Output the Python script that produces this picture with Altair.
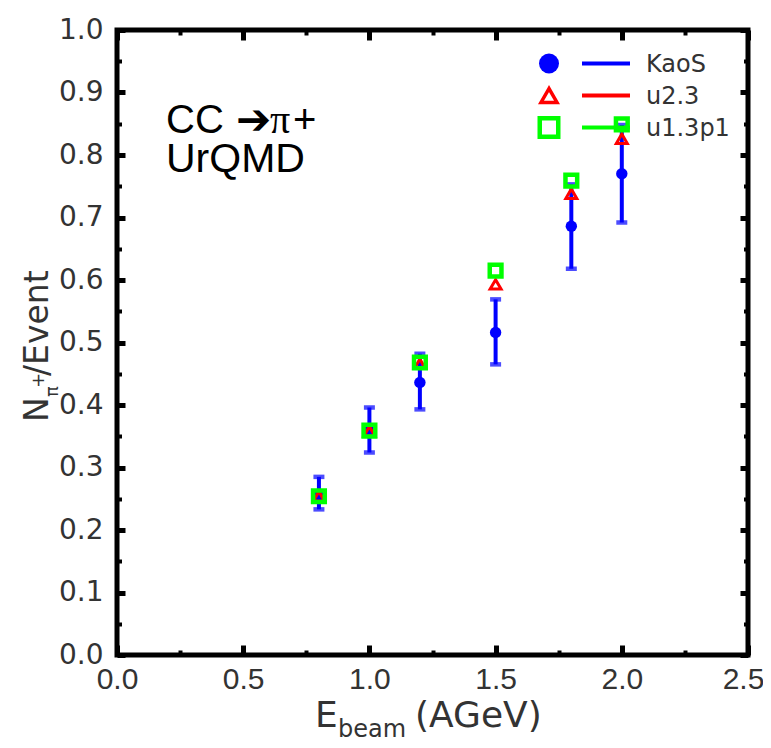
import altair as alt
import pandas as pd

# ---- data ----
energy = [0.8, 1.0, 1.2, 1.5, 1.8, 2.0]
kaos = [0.256, 0.360, 0.436, 0.516, 0.686, 0.770]
kaos_lo = [0.233, 0.324, 0.393, 0.465, 0.618, 0.692]
kaos_hi = [0.285, 0.396, 0.482, 0.569, 0.753, 0.848]
u23 = [0.254, 0.358, 0.466, 0.593, 0.738, 0.826]
u13p1 = [0.254, 0.359, 0.468, 0.615, 0.759, 0.849]

x_major = [0.0, 0.5, 1.0, 1.5, 2.0, 2.5]
x_all = [0.0, 0.25, 0.5, 0.75, 1.0, 1.25, 1.5, 1.75, 2.0, 2.25, 2.5]
y_major = [0.0, 0.1, 0.2, 0.3, 0.4, 0.5, 0.6, 0.7, 0.8, 0.9, 1.0]
y_all = [0.0, 0.05, 0.1, 0.15, 0.2, 0.25, 0.3, 0.35, 0.4, 0.45, 0.5,
         0.55, 0.6, 0.65, 0.7, 0.75, 0.8, 0.85, 0.9, 0.95, 1.0]

legend_labels = ["KaoS", "u2.3", "u1.3p1"]
legend_colors = ["#0000ff", "#ff0000", "#00ff00"]

W, H = 631, 625
BLUE, RED, GREEN = legend_colors

df = pd.DataFrame({"E": energy, "kaos": kaos, "lo": kaos_lo, "hi": kaos_hi,
                   "u23": u23, "u13": u13p1})

xs = alt.Scale(domain=[0, 2.5], nice=False, zero=False)
ys = alt.Scale(domain=[0, 1], nice=False, zero=False)

LBL = "DejaVu Sans"
LBLC = "Liberation Sans"
TXT = "#333333"

x_major_test = "abs(datum.value*2 - round(datum.value*2)) < 0.001"
y_major_test = "abs(datum.value*10 - round(datum.value*10)) < 0.001"
xsize = {"condition": {"test": x_major_test, "value": 10}, "value": 5}
xwid = {"condition": {"test": x_major_test, "value": 5}, "value": 4}
ysize = {"condition": {"test": y_major_test, "value": 8}, "value": 4.5}
ywid = {"condition": {"test": y_major_test, "value": 5}, "value": 4}
last_shift = {"condition": {"test": "datum.value > 2.4", "value": -5}, "value": 0}


def tick_axis(orient, values, size, wid, offset):
    return alt.Axis(orient=orient, offset=offset, values=values, labels=False,
                    domain=False, grid=False, tickColor="black",
                    tickSize=size, tickWidth=wid, title=None)


ax_x_lab = alt.Axis(orient="bottom", values=x_major, format=".1f", ticks=False,
                    domain=False, grid=False, labelFont=LBLC, labelFontSize=30,
                    labelColor=TXT, labelPadding=9, labelFlush=False,
                    labelOverlap=False, labelOffset=last_shift, title=None)
ax_y_lab = alt.Axis(orient="left", values=y_major, format=".1f", ticks=False,
                    domain=False, grid=False, labelFont=LBL, labelFontSize=28,
                    labelColor=TXT, labelPadding=14, labelFlush=False,
                    labelOverlap=False, title=None)

base = alt.Chart(df)

err = base.mark_rule(color=BLUE, strokeWidth=4).encode(
    x=alt.X("E:Q", scale=xs, axis=ax_x_lab),
    y=alt.Y("lo:Q", scale=ys, axis=ax_y_lab),
    y2="hi:Q",
)
cap_lo = base.mark_tick(color=BLUE, orient="horizontal", size=11, thickness=4.5).encode(
    x=alt.X("E:Q", scale=xs, axis=None),
    y=alt.Y("lo:Q", scale=ys, axis=None),
)
cap_hi = base.mark_tick(color=BLUE, orient="horizontal", size=11, thickness=4.5).encode(
    x=alt.X("E:Q", scale=xs, axis=None),
    y=alt.Y("hi:Q", scale=ys, axis=None),
)
circ = base.mark_point(shape="circle", filled=True, size=130, color=BLUE, opacity=1).encode(
    x=alt.X("E:Q", scale=xs, axis=tick_axis("top", x_all, xsize, xwid, -H)),
    y=alt.Y("kaos:Q", scale=ys, axis=tick_axis("right", y_all, ysize, ywid, -W)),
)
tri = base.mark_point(shape="triangle-up", filled=False, size=120, strokeWidth=3,
                      color=RED, opacity=1).encode(
    x=alt.X("E:Q", scale=xs, axis=tick_axis("bottom", x_all, xsize, xwid, -H)),
    y=alt.Y("u23:Q", scale=ys, axis=tick_axis("left", y_all, ysize, ywid, -W)),
)
sq = base.mark_point(shape="square", filled=False, size=137, strokeWidth=4.5,
                     color=GREEN, opacity=1).encode(
    x=alt.X("E:Q", scale=xs, axis=None),
    y=alt.Y("u13:Q", scale=ys, axis=None),
)

layers = [err, cap_lo, cap_hi, circ, tri, sq]

# ---- legend (manual, top right inside the frame) ----
leg_shapes = ["circle", "triangle-up", "square"]
leg_filled = [True, False, False]
leg_sizes = [400, 256, 342]
leg_sw = [0, 3.5, 4.5]
one = pd.DataFrame({"k": [0]})
for i, (lab, col) in enumerate(zip(legend_labels, legend_colors)):
    ry = 33.5 + 32 * i
    layers.append(alt.Chart(one).mark_rule(color=col, strokeWidth=4).encode(
        x=alt.value(465), x2=alt.value(513), y=alt.value(ry)))
    layers.append(alt.Chart(one).mark_point(
        shape=leg_shapes[i], filled=leg_filled[i], size=leg_sizes[i],
        strokeWidth=leg_sw[i], color=col, opacity=1).encode(
        x=alt.value(432), y=alt.value(ry)))
    layers.append(alt.Chart(one).mark_text(
        text=lab, font=LBL, fontSize=24, color=TXT, align="left",
        baseline="alphabetic").encode(x=alt.value(529), y=alt.value(ry + 8.7)))

# ---- annotation ----
ann_y1, ann_y2 = 103, 142
layers.append(alt.Chart(one).mark_text(
    text="CC", font="Liberation Sans", fontSize=40, color="black",
    align="left", baseline="alphabetic").encode(x=alt.value(49), y=alt.value(ann_y1)))
layers.append(alt.Chart(one).mark_text(
    text="\u2794", font="DejaVu Sans", fontSize=42, color="black",
    align="left", baseline="alphabetic").encode(x=alt.value(119), y=alt.value(ann_y1 + 1)))
layers.append(alt.Chart(one).mark_text(
    text="\u03c0", font="Liberation Serif", fontSize=40, color="black",
    align="left", baseline="alphabetic").encode(x=alt.value(153), y=alt.value(ann_y1)))
layers.append(alt.Chart(one).mark_text(
    text="+", font="Liberation Sans", fontSize=40, color="black",
    align="left", baseline="alphabetic").encode(x=alt.value(176), y=alt.value(ann_y1)))
layers.append(alt.Chart(one).mark_text(
    text="UrQMD", font="Liberation Sans", fontSize=41, color="black",
    align="left", baseline="alphabetic").encode(x=alt.value(49), y=alt.value(ann_y2)))

# ---- axis titles with sub/superscripts ----
layers.append(alt.Chart(one).mark_text(
    text="E", font=LBL, fontSize=36, color=TXT, align="left",
    baseline="alphabetic").encode(x=alt.value(198), y=alt.value(697)))
layers.append(alt.Chart(one).mark_text(
    text="beam", font=LBL, fontSize=24, color=TXT, align="left",
    baseline="alphabetic").encode(x=alt.value(221), y=alt.value(707)))
layers.append(alt.Chart(one).mark_text(
    text="(AGeV)", font=LBL, fontSize=36, color=TXT, align="left",
    baseline="alphabetic").encode(x=alt.value(298), y=alt.value(697)))

layers.append(alt.Chart(one).mark_text(
    text="N", font=LBL, fontSize=33, color=TXT, align="left", angle=270,
    baseline="alphabetic").encode(x=alt.value(-69), y=alt.value(392)))
layers.append(alt.Chart(one).mark_text(
    text="\u03c0", font=LBL, fontSize=18, color=TXT, align="left", angle=270,
    baseline="alphabetic").encode(x=alt.value(-59), y=alt.value(367)))
layers.append(alt.Chart(one).mark_text(
    text="+", font=LBL, fontSize=18, color=TXT, align="left", angle=270,
    baseline="alphabetic").encode(x=alt.value(-73), y=alt.value(358)))
layers.append(alt.Chart(one).mark_text(
    text="/Event", font=LBL, fontSize=33, color=TXT, align="left", angle=270,
    baseline="alphabetic").encode(x=alt.value(-69), y=alt.value(346)))

chart = alt.layer(*layers).resolve_axis(
    x="independent", y="independent"
).properties(
    width=W, height=H,
    autosize=alt.AutoSizeParams(type="none"),
    padding={"left": 109, "top": 22, "right": 15, "bottom": 93},
    background="white",
).configure_view(stroke="black", strokeWidth=5)

chart.save("out.html", embed_options={"renderer": "svg", "actions": False})
